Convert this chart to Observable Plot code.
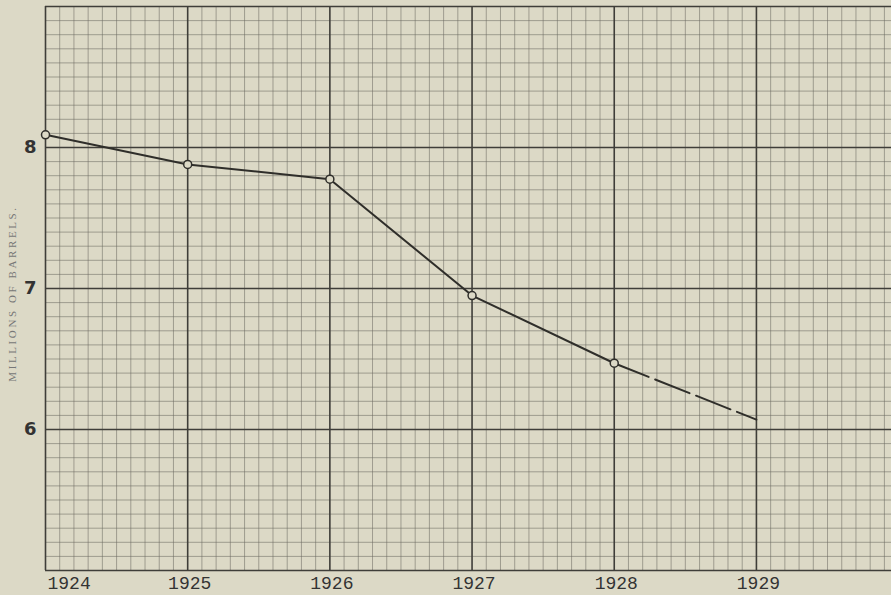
<!DOCTYPE html>
<html>
<head>
<meta charset="utf-8">
<script src="https://cdn.jsdelivr.net/npm/d3@7"></script>
<script src="https://cdn.jsdelivr.net/npm/@observablehq/plot@0.6"></script>
<style>
  html, body { margin: 0; padding: 0; background: #dcd9c6; }
  #chart { width: 891px; height: 595px; overflow: hidden; }
</style>
</head>
<body>
<div id="chart"></div>
<script>
// Observed values (millions of barrels)
const years = [1924, 1925, 1926, 1927, 1928];
const values = [8.09, 7.88, 7.775, 6.95, 6.47];
// Projected (dashed) segment
const projYears = [1928, 1929];
const projValues = [6.47, 6.07];
// Tick labels
const xTickYears = [1924, 1925, 1926, 1927, 1928, 1929];
const yTicks = [6, 7, 8];
const yLabel = "MILLIONS OF BARRELS.";

const observed = years.map((y, i) => ({year: y, value: values[i]}));
const projected = projYears.map((y, i) => ({year: y, value: projValues[i]}));

const xMax = 1929.95;
const minorX = d3.range(1, 60).map(i => 1924 + i / 10).filter(v => Math.abs(v - Math.round(v)) > 1e-6);
const minorY = d3.range(1, 40).map(i => 5 + i / 10).filter(v => Math.abs(v - Math.round(v)) > 1e-6);
const majorX = [1924, 1925, 1926, 1927, 1928, 1929];
const majorY = [5, 6, 7, 8, 9];

const bg = "#dcd9c6";
const ink = "#2f2e2a";
const gridMinor = "#6b6960";
const gridMajor = "#3f3e39";

const chart = Plot.plot({
  width: 891,
  height: 595,
  marginTop: 6,
  marginBottom: 25,
  marginLeft: 45,
  marginRight: 0,
  style: {background: bg, overflow: "visible"},
  x: {domain: [1924, xMax], axis: null},
  y: {domain: [5, 9], axis: null},
  marks: [
    Plot.ruleX(minorX, {stroke: gridMinor, strokeWidth: 1, strokeOpacity: 0.55}),
    Plot.ruleY(minorY, {stroke: gridMinor, strokeWidth: 1, strokeOpacity: 0.55}),
    Plot.ruleX(majorX, {stroke: gridMajor, strokeWidth: 1.6}),
    Plot.ruleY(majorY, {stroke: gridMajor, strokeWidth: 1.6}),
    Plot.line(projected, {x: "year", y: "value", stroke: ink, strokeWidth: 2, strokeDasharray: "37,7"}),
    Plot.line(observed, {x: "year", y: "value", stroke: ink, strokeWidth: 2}),
    Plot.dot(observed, {x: "year", y: "value", r: 4, stroke: ink, strokeWidth: 1.5, fill: bg}),
    Plot.axisY(yTicks, {
      tickSize: 0, tickPadding: 9, fontSize: 18, fontWeight: 600,
      fontFamily: "DejaVu Sans", fill: "#333", tickFormat: d => String(d), label: null
    }),
    Plot.axisX(xTickYears.slice(0, 1), {
      tickSize: 0, tickPadding: 6, fontSize: 18, textAnchor: "start", dx: 2,
      fontFamily: "Liberation Mono", fill: "#333", tickFormat: d => String(d), label: null
    }),
    Plot.axisX(xTickYears.slice(1), {
      tickSize: 0, tickPadding: 6, fontSize: 18, dx: 2,
      fontFamily: "Liberation Mono", fill: "#333", tickFormat: d => String(d), label: null
    }),
    Plot.text([yLabel], {
      frameAnchor: "left", textAnchor: "middle", rotate: -90, dx: -33, dy: 5,
      fontSize: 11, fontFamily: "Liberation Serif", fill: "#777"
    })
  ]
});
// widen the letter spacing of the rotated axis title
d3.select(chart).selectAll("text")
  .filter(function () { return this.textContent === yLabel; })
  .attr("letter-spacing", "2.6px");
document.getElementById("chart").appendChild(chart);
</script>
</body>
</html>
